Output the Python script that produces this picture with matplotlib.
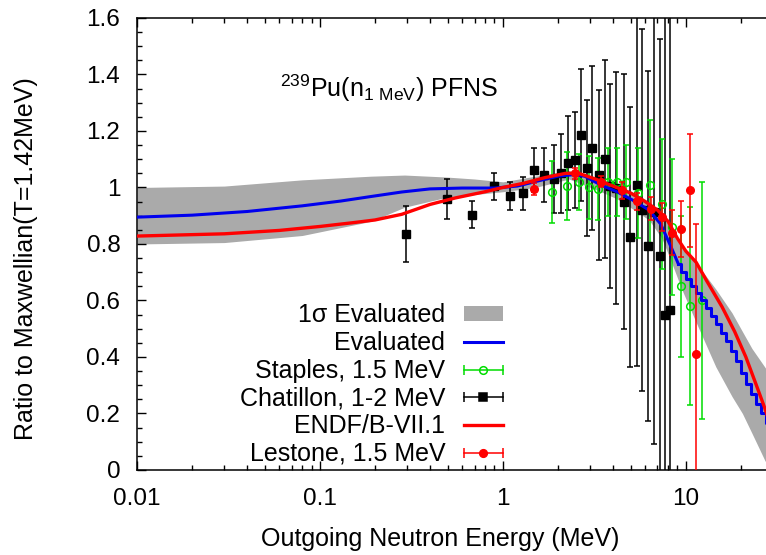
import matplotlib
matplotlib.use('Agg')
import matplotlib.pyplot as plt
from matplotlib.lines import Line2D
from matplotlib.patches import Patch
from matplotlib.legend_handler import HandlerLine2D
from matplotlib.ticker import FixedLocator, LogLocator, NullFormatter

plt.rcParams['font.family'] = ['Liberation Sans', 'DejaVu Sans']
plt.rcParams['mathtext.default'] = 'regular'

# 1 sigma band of the evaluation
band_E = [0.01, 0.03, 0.08, 0.19, 0.29, 0.49, 0.7, 1.0, 1.5, 2.3, 3.3, 4.2, 5.1, 6.3,
          7.4, 8.3, 9.5, 11.8, 14.6, 17.9, 20.4, 23.0, 27.0, 30.0]
band_hi = [1.0, 1.005, 1.027, 1.04, 1.044, 1.037, 1.03, 1.02, 1.04, 1.06, 1.035, 1.01, 0.985, 0.95,
           0.91, 0.86, 0.80, 0.72, 0.64, 0.556, 0.49, 0.43, 0.365, 0.32]
band_lo = [0.80, 0.805, 0.83, 0.88, 0.93, 0.965, 0.975, 0.985, 1.0, 1.03, 0.99, 0.96, 0.925, 0.885,
           0.82, 0.74, 0.64, 0.50, 0.365, 0.26, 0.20, 0.13, 0.035, -0.02]

# evaluated (blue), smooth part and binned tail
eval_E = [0.01, 0.02, 0.04, 0.08, 0.13, 0.19, 0.28, 0.4, 0.6, 0.9, 1.2, 1.6, 2.0, 2.4, 2.8,
          3.4, 4.2, 5.1, 6.3, 7.3, 8.3, 9.1]
eval_r = [0.895, 0.902, 0.915, 0.935, 0.952, 0.968, 0.984, 0.995, 0.998, 0.998, 1.005, 1.025, 1.04,
          1.045, 1.04, 1.01, 0.985, 0.956, 0.92, 0.87, 0.79, 0.73]
tail_E = [9.1, 9.7, 10.3, 11.0, 11.7, 12.5, 13.3, 14.2, 15.1, 16.1, 17.1, 18.2, 19.4, 20.7,
          22.0, 23.4, 24.9, 26.6, 28.3, 30.1]
tail_r = [0.73, 0.70, 0.675, 0.65, 0.625, 0.60, 0.575, 0.545, 0.515, 0.485, 0.455, 0.42, 0.385,
          0.345, 0.305, 0.27, 0.235, 0.20, 0.165, 0.13]

# ENDF/B-VII.1 (red)
endf_E = [0.01, 0.03, 0.06, 0.1, 0.15, 0.2, 0.28, 0.4, 0.55, 0.8, 1.0, 1.3, 1.7, 2.2, 2.6, 3.2,
          4.0, 5.0, 6.0, 7.0, 8.0, 9.0, 10.0, 11.4, 13.0, 15.8, 18.5, 21.3, 24.0, 27.0, 30.0]
endf_r = [0.828, 0.836, 0.848, 0.862, 0.875, 0.885, 0.905, 0.94, 0.963, 0.985, 1.0, 1.015, 1.035,
          1.05, 1.05, 1.03, 1.005, 0.98, 0.95, 0.92, 0.88, 0.82, 0.775, 0.735, 0.67, 0.577, 0.49,
          0.40, 0.31, 0.22, 0.13]

# Staples, 1.5 MeV
stap_E = [1.86, 2.25, 2.6, 2.95, 3.3, 3.75, 4.2, 4.7, 5.5, 6.4, 7.4, 8.4, 9.4, 10.6, 12.2]
stap_r = [0.985, 1.005, 1.02, 1.0, 0.995, 1.02, 1.02, 1.02, 0.98, 1.01, 0.94, 0.86, 0.65, 0.58, 0.60]
stap_err = [0.11, 0.12, 0.10, 0.11, 0.11, 0.12, 0.12, 0.13, 0.16, 0.23, 0.23, 0.24, 0.25, 0.35, 0.42]

# Chatillon, 1-2 MeV
chat_E = [0.297, 0.498, 0.68, 0.90, 1.10, 1.29, 1.48, 1.68, 1.90, 2.07, 2.27, 2.48, 2.68, 2.89,
          3.07, 3.36, 3.62, 3.86, 4.16, 4.6, 4.95, 5.4, 5.76, 6.2, 6.7, 7.22, 7.7, 8.2]
chat_r = [0.835, 0.96, 0.903, 1.005, 0.97, 0.98, 1.062, 1.044, 1.03, 1.05, 1.087, 1.097, 1.186,
          1.07, 1.14, 1.044, 1.10, 1.005, 0.998, 0.95, 0.825, 1.009, 0.92, 0.793, 0.913, 0.757,
          0.55, 0.566]
chat_err = [0.10, 0.07, 0.048, 0.048, 0.048, 0.058, 0.078, 0.094, 0.12, 0.14, 0.165, 0.17, 0.235,
            0.24, 0.29, 0.30, 0.35, 0.36, 0.41, 0.45, 0.46, 0.64, 0.64, 0.62, 0.82, 0.77, 1.1, 1.1]

# Lestone, 1.5 MeV
lest_E = [1.48, 2.48, 3.44, 4.48, 5.4, 6.46, 7.45, 8.4, 9.4, 10.5, 11.4]
lest_r = [0.995, 1.05, 1.02, 0.99, 0.952, 0.925, 0.895, 0.84, 0.853, 0.99, 0.41]
lest_err = [0.02, 0.02, 0.02, 0.03, 0.03, 0.04, 0.05, 0.08, 0.10, 0.20, 0.46]

x_ticks = [0.01, 0.1, 1, 10]
x_labels = ['0.01', '0.1', '1', '10']
y_ticks = [0, 0.2, 0.4, 0.6, 0.8, 1.0, 1.2, 1.4, 1.6]
y_labels = ['0', '0.2', '0.4', '0.6', '0.8', '1', '1.2', '1.4', '1.6']
y_minor = [i * 0.05 for i in range(33)]

GREEN = '#00dd00'
GREY = '#aaaaaa'
BLUE = '#0000ee'
RED = '#ff0000'

fig = plt.figure(figsize=(7.66, 5.55), dpi=100)
ax = fig.add_axes([0.1789, 0.1532, 0.8303, 0.8144])

ax.fill_between(band_E, band_lo, band_hi, color=GREY, lw=0, zorder=1)

ax.errorbar(chat_E, chat_r, yerr=chat_err, fmt='s', color='black', ms=6, capsize=2.3,
            elinewidth=1.1, capthick=1.1, zorder=3)
ax.errorbar(stap_E, stap_r, yerr=stap_err, fmt='o', color=GREEN, mfc='none', ms=5.5, capsize=2.5,
            elinewidth=1.1, capthick=1.1, mew=1.1, zorder=3)

ax.plot(eval_E, eval_r, color=BLUE, lw=2.2, zorder=4)
ax.plot(tail_E, tail_r, color=BLUE, lw=2.2, drawstyle='steps-mid', zorder=4)
ax.plot(endf_E, endf_r, color=RED, lw=2.4, zorder=5)

ax.errorbar(lest_E, lest_r, yerr=lest_err, fmt='o', color=RED, ms=5.5, capsize=2.5,
            elinewidth=1.1, capthick=1.1, zorder=6)

ax.set_xscale('log')
ax.set_xlim(0.01, 30)
ax.set_ylim(0, 1.6)

ax.xaxis.set_major_locator(FixedLocator(x_ticks))
ax.xaxis.set_minor_locator(LogLocator(base=10, subs=range(2, 10), numticks=20))
ax.xaxis.set_minor_formatter(NullFormatter())
ax.set_xticklabels(x_labels)
ax.yaxis.set_major_locator(FixedLocator(y_ticks))
ax.yaxis.set_minor_locator(FixedLocator(y_minor))
ax.set_yticklabels(y_labels)

ax.tick_params(which='both', direction='in', top=True, right=False, labelsize=17.5, width=1.0)
ax.tick_params(which='major', length=6.5)
ax.tick_params(which='minor', length=3.5)
ax.tick_params(axis='x', which='major', pad=13)
ax.tick_params(axis='y', which='major', pad=12)
for s in ax.spines.values():
    s.set_linewidth(1.1)
ax.spines['right'].set_visible(False)

ax.set_xlabel('Outgoing Neutron Energy (MeV)', fontsize=18)
ax.set_ylabel('Ratio to Maxwellian(T=1.42MeV)', fontsize=18)
ax.xaxis.set_label_coords(0.476, -0.127)
ax.yaxis.set_label_coords(-0.155, 0.468)

ax.text(0.225, 0.845, r'$^{239}$Pu(n$_{1\ MeV}$) PFNS', transform=ax.transAxes,
        fontsize=18, ha='left', va='center')

# legend, gnuplot style: text on the left, sample on the right
def err_handle(color, marker, mfc):
    caps = Line2D([], [], color=color, lw=1.1, marker='|', ms=7, mew=1.1)
    pt = Line2D([], [], color=color, ls='none', marker=marker, mfc=mfc, mec=color, ms=5.5, mew=1.1)
    return (caps, pt), caps, pt

stap_h, stap_c, stap_p = err_handle(GREEN, 'o', 'none')
chat_h, chat_c, chat_p = err_handle('black', 's', 'black')
lest_h, lest_c, lest_p = err_handle(RED, 'o', RED)

handles = [Patch(facecolor=GREY, edgecolor='none'),
           Line2D([], [], color=BLUE, lw=2.2),
           stap_h, chat_h,
           Line2D([], [], color=RED, lw=2.4),
           lest_h]
labels = ['1\u03c3 Evaluated', 'Evaluated', 'Staples, 1.5 MeV', 'Chatillon, 1-2 MeV',
          'ENDF/B-VII.1', 'Lestone, 1.5 MeV']
hmap = {}
for c in (stap_c, chat_c, lest_c):
    hmap[c] = HandlerLine2D(numpoints=2, marker_pad=0)
for p in (stap_p, chat_p, lest_p):
    hmap[p] = HandlerLine2D(numpoints=1)

ax.legend(handles, labels, handler_map=hmap, loc='upper right', bbox_to_anchor=(0.575, 0.369),
          markerfirst=False, frameon=False, fontsize=18, handlelength=1.55, handleheight=0.55,
          handletextpad=0.75, labelspacing=0.15, borderpad=0, borderaxespad=0)

fig.savefig('out.png', dpi=100)
